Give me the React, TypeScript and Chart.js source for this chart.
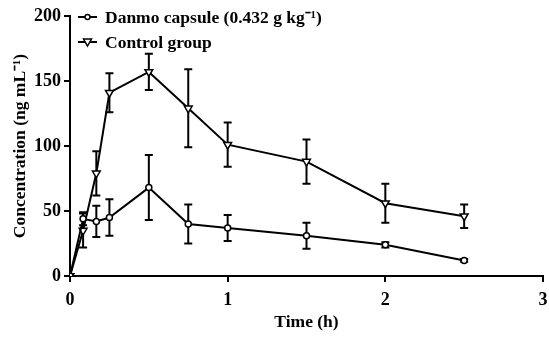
import React, { useEffect, useRef } from 'react';
import { Chart, registerables } from 'chart.js';
Chart.register(...registerables);

const times = [0, 0.083, 0.167, 0.25, 0.5, 0.75, 1, 1.5, 2, 2.5];
const danmoMean = [0, 44, 42, 45, 68, 40, 37, 31, 24, 12];
const danmoSD = [0, 5, 12, 14, 25, 15, 10, 10, 2, 1];
const controlMean = [0, 35, 79, 141, 157, 129, 101, 88, 56, 46];
const controlSD = [0, 13, 17, 15, 14, 30, 17, 17, 15, 9];
const yTicks = [0, 50, 100, 150, 200];
const xTicks = [0, 1, 2, 3];
const seriesNames = ['Danmo capsule (0.432 g kg\u207B\u00B9)', 'Control group'];
const yTitle = 'Concentration (ng mL\u207B\u00B9)';
const xTitle = 'Time (h)';

const FONT = '"Liberation Serif", "Times New Roman", serif';

const errorBars = {
  id: 'errorBars',
  beforeDatasetsDraw(chart: any) {
    const ctx = chart.ctx;
    const xs = chart.scales.x;
    const ys = chart.scales.y;
    const sds = [danmoSD, controlSD];
    const means = [danmoMean, controlMean];
    ctx.save();
    ctx.strokeStyle = '#000';
    ctx.lineWidth = 2;
    for (let s = 0; s < 2; s++) {
      for (let i = 0; i < times.length; i++) {
        const sd = sds[s][i];
        if (!sd) continue;
        const x = xs.getPixelForValue(times[i]);
        const top = ys.getPixelForValue(means[s][i] + sd);
        const bot = ys.getPixelForValue(means[s][i] - sd);
        ctx.beginPath();
        ctx.moveTo(x, top);
        ctx.lineTo(x, bot);
        ctx.moveTo(x - 4, top);
        ctx.lineTo(x + 4, top);
        ctx.moveTo(x - 4, bot);
        ctx.lineTo(x + 4, bot);
        ctx.stroke();
      }
    }
    ctx.restore();
  },
};

const legendPlugin = {
  id: 'customLegend',
  afterDraw(chart: any) {
    const ctx = chart.ctx;
    const left = chart.chartArea.left + 8;
    const rows = [17, 42];
    ctx.save();
    ctx.font = `bold 17.5px ${FONT}`;
    ctx.textBaseline = 'middle';
    ctx.fillStyle = '#000';
    for (let i = 0; i < 2; i++) {
      const y = rows[i];
      ctx.strokeStyle = '#000';
      ctx.lineWidth = 2;
      ctx.beginPath();
      ctx.moveTo(left, y);
      ctx.lineTo(left + 19, y);
      ctx.stroke();
      ctx.fillStyle = '#fff';
      ctx.lineWidth = 1.5;
      ctx.beginPath();
      if (i === 0) {
        ctx.arc(left + 9.5, y, 2.5, 0, Math.PI * 2);
      } else {
        ctx.moveTo(left + 5.5, y - 3);
        ctx.lineTo(left + 13.5, y - 3);
        ctx.lineTo(left + 9.5, y + 4);
        ctx.closePath();
      }
      ctx.fill();
      ctx.stroke();
      ctx.fillStyle = '#000';
      ctx.fillText(seriesNames[i], left + 27, y + 1);
    }
    ctx.restore();
  },
};

export default function App() {
  const ref = useRef<HTMLCanvasElement>(null);
  useEffect(() => {
    document.body.style.margin = '0';
    Chart.defaults.font.family = FONT;
    const chart = new Chart(ref.current!, {
      type: 'line',
      data: {
        datasets: [
          {
            label: seriesNames[0],
            data: times.map((t, i) => ({ x: t, y: danmoMean[i] })),
            borderColor: '#000',
            borderWidth: 2,
            pointStyle: 'circle',
            pointRadius: 3,
            pointBorderWidth: 1.5,
            pointBackgroundColor: '#fff',
            pointBorderColor: '#000',
          },
          {
            label: seriesNames[1],
            data: times.map((t, i) => ({ x: t, y: controlMean[i] })),
            borderColor: '#000',
            borderWidth: 2,
            pointStyle: 'triangle',
            rotation: 180,
            pointRadius: 4.5,
            pointBorderWidth: 1.5,
            pointBackgroundColor: '#fff',
            pointBorderColor: '#000',
          },
        ],
      },
      options: {
        animation: false,
        responsive: false,
        layout: { padding: { top: 16, right: 6, left: 0, bottom: 0 } },
        plugins: { legend: { display: false }, tooltip: { enabled: false } },
        scales: {
          x: {
            type: 'linear',
            min: 0,
            max: 3,
            afterBuildTicks: (s: any) => { s.ticks = xTicks.map((v) => ({ value: v })); },
            afterFit: (s: any) => { s.height = 61; s.paddingRight = 0; s.paddingLeft = 0; },
            border: { color: '#000', width: 2 },
            grid: { drawOnChartArea: false, drawTicks: true, tickLength: 6, color: '#000', lineWidth: 2 },
            ticks: { color: '#000', font: { size: 18, weight: 'bold' }, padding: 8 },
            title: { display: true, text: xTitle, color: '#000', font: { size: 17.5, weight: 'bold' }, padding: { top: 0, bottom: 4 } },
          },
          y: {
            min: 0,
            max: 200,
            afterBuildTicks: (s: any) => { s.ticks = yTicks.map((v) => ({ value: v })); },
            afterFit: (s: any) => { s.width = 70; s.paddingTop = 0; s.paddingBottom = 0; },
            border: { color: '#000', width: 2 },
            grid: { drawOnChartArea: false, drawTicks: true, tickLength: 6, color: '#000', lineWidth: 2 },
            ticks: { color: '#000', font: { size: 18, weight: 'bold' }, padding: 3 },
            title: { display: true, text: yTitle, color: '#000', font: { size: 17.5, weight: 'bold' }, padding: { top: 10, bottom: 0 } },
          },
        },
      },
      plugins: [errorBars, legendPlugin],
    } as any);
    return () => chart.destroy();
  }, []);
  return (
    <div style={{ width: 549, height: 337 }}>
      <canvas ref={ref} width={549} height={337} />
    </div>
  );
}
